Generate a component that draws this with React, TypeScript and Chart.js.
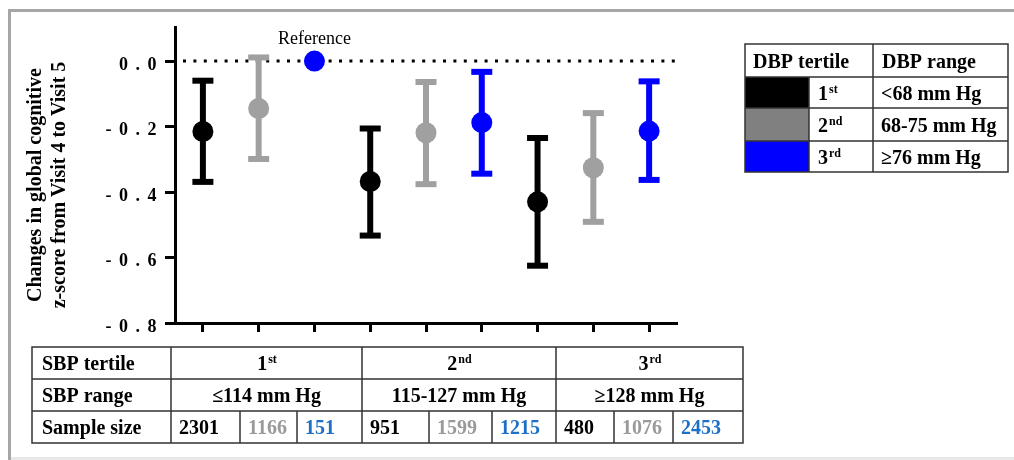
import React, { useEffect, useRef } from 'react';
import { Chart, registerables } from 'chart.js';

Chart.register(...registerables);

// ---- data ----
const groupLabels = [
  'SBP1 DBP1', 'SBP1 DBP2', 'SBP1 DBP3',
  'SBP2 DBP1', 'SBP2 DBP2', 'SBP2 DBP3',
  'SBP3 DBP1', 'SBP3 DBP2', 'SBP3 DBP3',
];
const meanValues = [-0.215, -0.145, 0.0, -0.368, -0.219, -0.188, -0.43, -0.326, -0.214];
const upperValues: (number | null)[] = [-0.06, 0.011, null, -0.206, -0.064, -0.033, -0.235, -0.159, -0.062];
const lowerValues: (number | null)[] = [-0.369, -0.299, null, -0.533, -0.376, -0.344, -0.625, -0.491, -0.363];
const yTickValues = [0, -0.2, -0.4, -0.6, -0.8];
const yTitleLines = ['Changes in global cognitive', 'z-score from Visit 4 to Visit 5'];
const referenceLabel = 'Reference';
const referenceIndex = 2;

const dbpHeader = ['DBP tertile', 'DBP range'];
const dbpTertiles = [['1', 'st'], ['2', 'nd'], ['3', 'rd']];
const dbpRanges = ['<68 mm Hg', '68-75 mm Hg', '\u226576 mm Hg'];

const sbpRowLabels = ['SBP tertile', 'SBP range', 'Sample size'];
const sbpTertiles = [['1', 'st'], ['2', 'nd'], ['3', 'rd']];
const sbpRanges = ['\u2264114 mm Hg', '115-127 mm Hg', '\u2265128 mm Hg'];
const sampleSizes = [2301, 1166, 151, 951, 1599, 1215, 480, 1076, 2453];

// ---- styles ----
const pointColors = ['#000000', '#a0a0a0', '#0000ff'];
const swatchColors = ['#000000', '#808080', '#0000ff'];
const sampleColors = ['#000000', '#9a9a9a', '#1f6fc6'];
const FONT = '"Liberation Serif", "Times New Roman", serif';

function drawOrdinal(ctx: CanvasRenderingContext2D, num: string, sup: string, x: number, base: number, align: 'left' | 'center') {
  ctx.fillStyle = '#000';
  ctx.font = `bold 20px ${FONT}`;
  const w1 = ctx.measureText(num).width;
  ctx.font = `bold 12px ${FONT}`;
  const w2 = ctx.measureText(sup).width;
  const x0 = align === 'center' ? x - (w1 + w2) / 2 : x;
  ctx.textAlign = 'left';
  ctx.textBaseline = 'alphabetic';
  ctx.font = `bold 20px ${FONT}`;
  ctx.fillText(num, x0, base);
  ctx.font = `bold 12px ${FONT}`;
  ctx.fillText(sup, x0 + w1 + 1, base - 7);
}

const overlayPlugin = {
  id: 'overlay',
  beforeDraw(chart: any) {
    const ctx = chart.ctx as CanvasRenderingContext2D;
    ctx.save();
    ctx.fillStyle = '#ffffff';
    ctx.fillRect(0, 0, chart.width, chart.height);
    // outer frame
    ctx.fillStyle = '#e8e8e8';
    ctx.fillRect(8, 457, 1006, 3);
    ctx.fillStyle = '#a6a6a6';
    ctx.fillRect(8, 9, 1006, 3);
    ctx.fillRect(8, 9, 3, 451);
    ctx.restore();
    (ctx as any).letterSpacing = '1.5px';
  },
  beforeDatasetsDraw(chart: any) {
    const ctx = chart.ctx as CanvasRenderingContext2D;
    (ctx as any).letterSpacing = '0px';
    const xs = chart.scales.x;
    const ys = chart.scales.y;
    const area = chart.chartArea;
    ctx.save();
    // dotted reference line at 0
    const y0 = ys.getPixelForValue(0);
    ctx.strokeStyle = '#000';
    ctx.lineWidth = 3;
    ctx.setLineDash([3, 7.4]);
    ctx.beginPath();
    ctx.moveTo(area.left + 8, y0);
    ctx.lineTo(area.right, y0);
    ctx.stroke();
    ctx.setLineDash([]);
    // error bars
    for (let i = 0; i < meanValues.length; i++) {
      const up = upperValues[i];
      const lo = lowerValues[i];
      if (up === null || lo === null) continue;
      const x = xs.getPixelForValue(i);
      const yt = ys.getPixelForValue(up);
      const yb = ys.getPixelForValue(lo);
      const c = pointColors[i % 3];
      ctx.strokeStyle = c;
      ctx.fillStyle = c;
      ctx.lineWidth = 6;
      ctx.beginPath();
      ctx.moveTo(x, yt);
      ctx.lineTo(x, yb);
      ctx.stroke();
      ctx.fillRect(x - 10.5, yt - 3, 21, 6);
      ctx.fillRect(x - 10.5, yb - 3, 21, 6);
    }
    ctx.restore();
  },
  afterDraw(chart: any) {
    const ctx = chart.ctx as CanvasRenderingContext2D;
    const xs = chart.scales.x;
    ctx.save();
    ctx.fillStyle = '#000';
    // Reference label
    ctx.font = `18px ${FONT}`;
    ctx.textAlign = 'center';
    ctx.textBaseline = 'alphabetic';
    ctx.fillText(referenceLabel, xs.getPixelForValue(referenceIndex), 44);

    // y-axis title
    ctx.font = `bold 20px ${FONT}`;
    const titleX = [41, 65];
    yTitleLines.forEach((line, k) => {
      ctx.save();
      ctx.translate(titleX[k], 185);
      ctx.rotate(-Math.PI / 2);
      ctx.textAlign = 'center';
      ctx.fillText(line, 0, 0);
      ctx.restore();
    });

    // ---- DBP legend table ----
    ctx.strokeStyle = '#333';
    ctx.lineWidth = 1.5;
    const L = { x0: 745, x1: 809, x2: 873, x3: 1008, rows: [44, 77, 108, 141, 172] };
    for (let r = 0; r < 3; r++) {
      ctx.fillStyle = swatchColors[r];
      ctx.fillRect(L.x0, L.rows[r + 1], L.x1 - L.x0, L.rows[r + 2] - L.rows[r + 1]);
    }
    ctx.beginPath();
    ctx.rect(L.x0, L.rows[0], L.x3 - L.x0, L.rows[4] - L.rows[0]);
    for (let r = 1; r < 4; r++) {
      ctx.moveTo(L.x0, L.rows[r]);
      ctx.lineTo(L.x3, L.rows[r]);
    }
    ctx.moveTo(L.x1, L.rows[1]);
    ctx.lineTo(L.x1, L.rows[4]);
    ctx.moveTo(L.x2, L.rows[0]);
    ctx.lineTo(L.x2, L.rows[4]);
    ctx.stroke();
    ctx.fillStyle = '#000';
    ctx.font = `bold 20px ${FONT}`;
    ctx.textAlign = 'left';
    ctx.fillText(dbpHeader[0], 753, 68);
    ctx.fillText(dbpHeader[1], 882, 68);
    for (let r = 0; r < 3; r++) {
      const base = (L.rows[r + 1] + L.rows[r + 2]) / 2 + 7;
      drawOrdinal(ctx, dbpTertiles[r][0], dbpTertiles[r][1], 818, base, 'left');
      ctx.fillStyle = '#000';
      ctx.font = `bold 20px ${FONT}`;
      ctx.textAlign = 'left';
      ctx.fillText(dbpRanges[r], 881, base);
    }

    // ---- SBP table ----
    const T = { cols: [32, 171, 362, 556, 743], sub: [[171, 240, 297, 362], [362, 429, 492, 556], [556, 614, 673, 743]], rows: [347, 379, 411, 443] };
    ctx.beginPath();
    ctx.rect(T.cols[0], T.rows[0], T.cols[4] - T.cols[0], T.rows[3] - T.rows[0]);
    for (let r = 1; r < 3; r++) {
      ctx.moveTo(T.cols[0], T.rows[r]);
      ctx.lineTo(T.cols[4], T.rows[r]);
    }
    for (let c = 1; c < 4; c++) {
      ctx.moveTo(T.cols[c], T.rows[0]);
      ctx.lineTo(T.cols[c], T.rows[3]);
    }
    T.sub.forEach((s) => {
      ctx.moveTo(s[1], T.rows[2]);
      ctx.lineTo(s[1], T.rows[3]);
      ctx.moveTo(s[2], T.rows[2]);
      ctx.lineTo(s[2], T.rows[3]);
    });
    ctx.stroke();
    const bases = [T.rows[0] + 23, T.rows[1] + 23, T.rows[2] + 23];
    ctx.fillStyle = '#000';
    ctx.font = `bold 20px ${FONT}`;
    ctx.textAlign = 'left';
    sbpRowLabels.forEach((t, r) => ctx.fillText(t, 42, bases[r]));
    for (let g = 0; g < 3; g++) {
      const cx = (T.cols[g + 1] + T.cols[g + 2]) / 2;
      drawOrdinal(ctx, sbpTertiles[g][0], sbpTertiles[g][1], cx, bases[0], 'center');
      ctx.fillStyle = '#000';
      ctx.font = `bold 20px ${FONT}`;
      ctx.textAlign = 'center';
      ctx.fillText(sbpRanges[g], cx, bases[1]);
      for (let k = 0; k < 3; k++) {
        ctx.fillStyle = sampleColors[k];
        ctx.textAlign = 'left';
        ctx.fillText(String(sampleSizes[g * 3 + k]), T.sub[g][k] + 8, bases[2]);
      }
    }
    ctx.restore();
  },
};

export default function App() {
  const ref = useRef<HTMLCanvasElement | null>(null);
  useEffect(() => {
    document.body.style.margin = '0';
    const canvas = ref.current;
    if (!canvas) return;
    const chart = new Chart(canvas, {
      type: 'line',
      data: {
        labels: groupLabels,
        datasets: [
          {
            data: meanValues,
            showLine: false,
            pointRadius: 10.5,
            pointHoverRadius: 10.5,
            pointBorderWidth: 0,
            pointBackgroundColor: meanValues.map((_, i) => pointColors[i % 3]),
            pointBorderColor: meanValues.map((_, i) => pointColors[i % 3]),
          },
        ],
      },
      options: {
        responsive: false,
        animation: false,
        devicePixelRatio: 1,
        layout: { padding: { top: 27, right: 337, bottom: 0, left: 0 } },
        plugins: { legend: { display: false }, tooltip: { enabled: false }, title: { display: false } },
        scales: {
          x: {
            type: 'category',
            offset: true,
            ticks: { display: false },
            grid: { display: true, drawOnChartArea: false, drawTicks: true, tickLength: 9, tickWidth: 3, tickColor: '#000', offset: false },
            border: { display: true, color: '#000', width: 3 },
            afterFit: (s: any) => { s.height = 137; },
          },
          y: {
            type: 'linear',
            min: -0.8,
            max: 0.104,
            afterBuildTicks: (s: any) => {
              s.ticks = yTickValues.slice().reverse().map((v) => ({ value: v }));
            },
            ticks: {
              stepSize: 0.2,
              color: '#000',
              padding: 7,
              labelOffset: 4,
              font: { family: '"Liberation Serif"', size: 18, weight: 'bold' },
              callback: (v: any) => {
                const n = Number(v);
                const t = Math.abs(n).toFixed(1).split('').join(' ');
                return n < -1e-9 ? '- ' + t : t;
              },
            },
            grid: { drawOnChartArea: false, drawTicks: true, tickLength: 10, tickWidth: 3, tickColor: '#000' },
            border: { display: true, color: '#000', width: 3 },
            afterFit: (s: any) => { s.width = 175; },
          },
        },
      },
      plugins: [overlayPlugin],
    } as any);
    return () => chart.destroy();
  }, []);
  return (
    <div style={{ width: 1014, height: 460, position: 'relative' }}>
      <canvas ref={ref} width={1014} height={460} style={{ display: 'block' }} />
    </div>
  );
}
